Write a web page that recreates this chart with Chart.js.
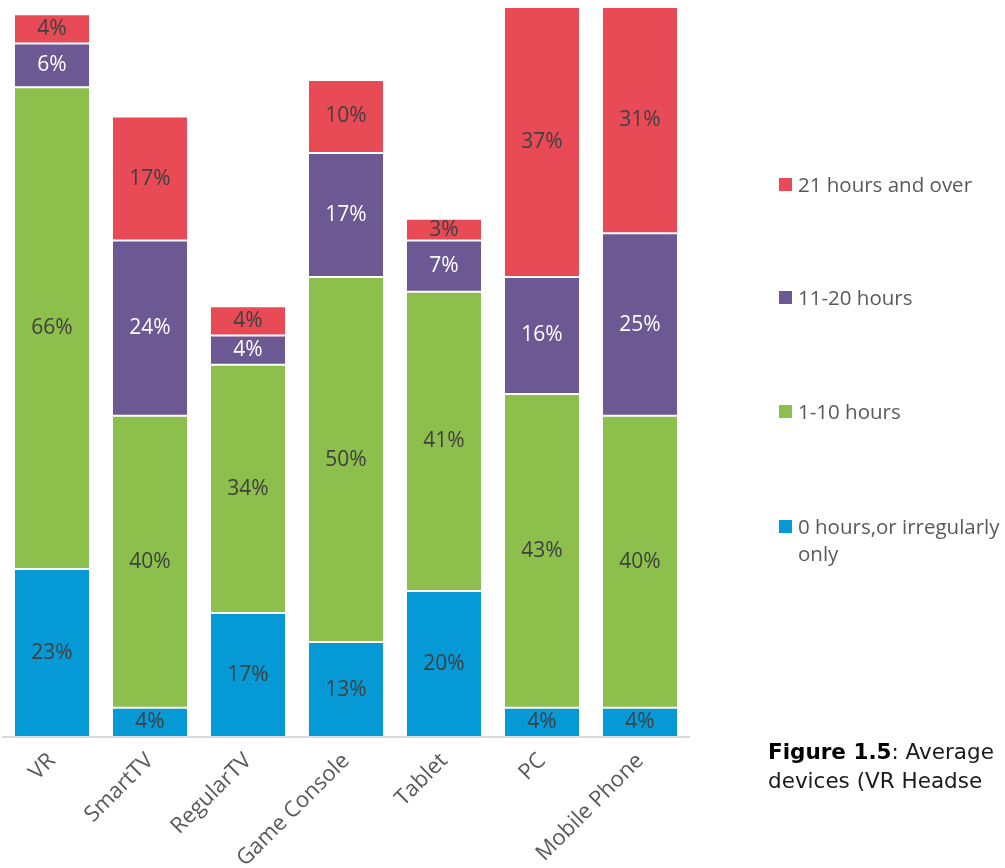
<!DOCTYPE html>
<html>
<head>
<meta charset="utf-8">
<script src="https://cdn.jsdelivr.net/npm/chart.js@4.4.1/dist/chart.umd.min.js"></script>
<style>
  html, body { margin: 0; padding: 0; background: #fff; overflow: hidden; }
  #wrap { position: relative; width: 1005px; height: 868px; }
  #hoursChart { position: absolute; left: 0; top: 0; }
  .legend { position: absolute; left: 779px; font-family: "Open Sans", sans-serif; font-size: 20.5px; color: #595959; line-height: 27px; }
  .legend .sw { position: absolute; left: 0; top: 7px; width: 13px; height: 13px; }
  .legend .tx { margin-left: 19px; }
  .caption { position: absolute; left: 768px; top: 737px; font-family: "DejaVu Sans", sans-serif; font-size: 21.5px; line-height: 29px; color: #1a1a1a; white-space: nowrap; }
  .caption b { color: #000; }
</style>
</head>
<body>
<div id="wrap">
  <canvas id="hoursChart" width="1005" height="868"></canvas>
  <div class="legend" id="legend"></div>
  <div class="caption"><b>Figure 1.5</b>: Average<br>devices (VR Headse</div>
</div>
<script>
var devices = ["VR", "SmartTV", "RegularTV", "Game Console", "Tablet", "PC", "Mobile Phone"];
var zeroHours = [23, 4, 17, 13, 20, 4, 4];
var oneToTen = [66, 40, 34, 50, 41, 43, 40];
var elevenToTwenty = [6, 24, 4, 17, 7, 16, 25];
var twentyOnePlus = [4, 17, 4, 10, 3, 37, 31];

var seriesNames = ["0 hours,or irregularly only", "1-10 hours", "11-20 hours", "21 hours and over"];
var seriesColors = ["#0599d6", "#8cbf4b", "#6c5893", "#e84a56"];
var labelColors = ["#404040", "#404040", "#ffffff", "#404040"];

// percentage text in the middle of every segment
const segmentLabels = {
    id: 'segmentLabels',
    afterDatasetsDraw(chart) {
        const ctx = chart.ctx;
        ctx.save();
        ctx.font = '21px "Open Sans", sans-serif';
        ctx.textAlign = 'center';
        ctx.textBaseline = 'middle';
        chart.data.datasets.forEach((ds, i) => {
            chart.getDatasetMeta(i).data.forEach((bar, j) => {
                const p = bar.getCenterPoint();
                ctx.fillStyle = labelColors[i];
                ctx.fillText(ds.data[j] + '%', p.x, p.y);
            });
        });
        ctx.restore();
    }
};

function buildLegend() {
    const box = document.getElementById('legend');
    const tops = [171, 284, 398, 513];
    for (let k = 0; k < 4; k++) {
        const i = 3 - k;
        const item = document.createElement('div');
        item.style.position = 'absolute';
        item.style.top = tops[k] + 'px';
        item.style.left = '0px';
        item.style.width = '240px';
        item.innerHTML = '<span class="sw" style="background:' + seriesColors[i] + '"></span>' +
            '<div class="tx">' + (i === 0 ? '0 hours,or irregularly<br>only' : seriesNames[i]) + '</div>';
        box.appendChild(item);
    }
}

var hoursChart;

function init_hours() {
    const ctx = document.getElementById('hoursChart').getContext('2d');
    const values = [zeroHours, oneToTen, elevenToTwenty, twentyOnePlus];
    hoursChart = new Chart(ctx, {
        type: 'bar',
        data: {
            labels: devices,
            datasets: values.map((v, i) => ({
                label: seriesNames[i],
                data: v,
                backgroundColor: seriesColors[i],
                borderColor: 'rgba(255,255,255,0.2)',
                borderWidth: 1,
                borderSkipped: false,
                barPercentage: 0.776,
                categoryPercentage: 1.0
            }))
        },
        options: {
            responsive: false,
            animation: false,
            layout: {
                padding: { left: 3, right: 316, top: 7, bottom: 0 }
            },
            plugins: {
                legend: { display: false },
                tooltip: { enabled: false }
            },
            scales: {
                x: {
                    stacked: true,
                    grid: { display: false },
                    border: { display: true, color: '#d9d9d9', width: 2 },
                    ticks: {
                        color: '#595959',
                        font: { family: '"Open Sans", sans-serif', size: 22 },
                        minRotation: 45,
                        maxRotation: 45,
                        autoSkip: false
                    },
                    afterFit: function (scale) { scale.height = 131; }
                },
                y: {
                    stacked: true,
                    display: false,
                    min: 0,
                    max: 100
                }
            }
        },
        plugins: [segmentLabels]
    });
}

buildLegend();
init_hours();
</script>
</body>
</html>
